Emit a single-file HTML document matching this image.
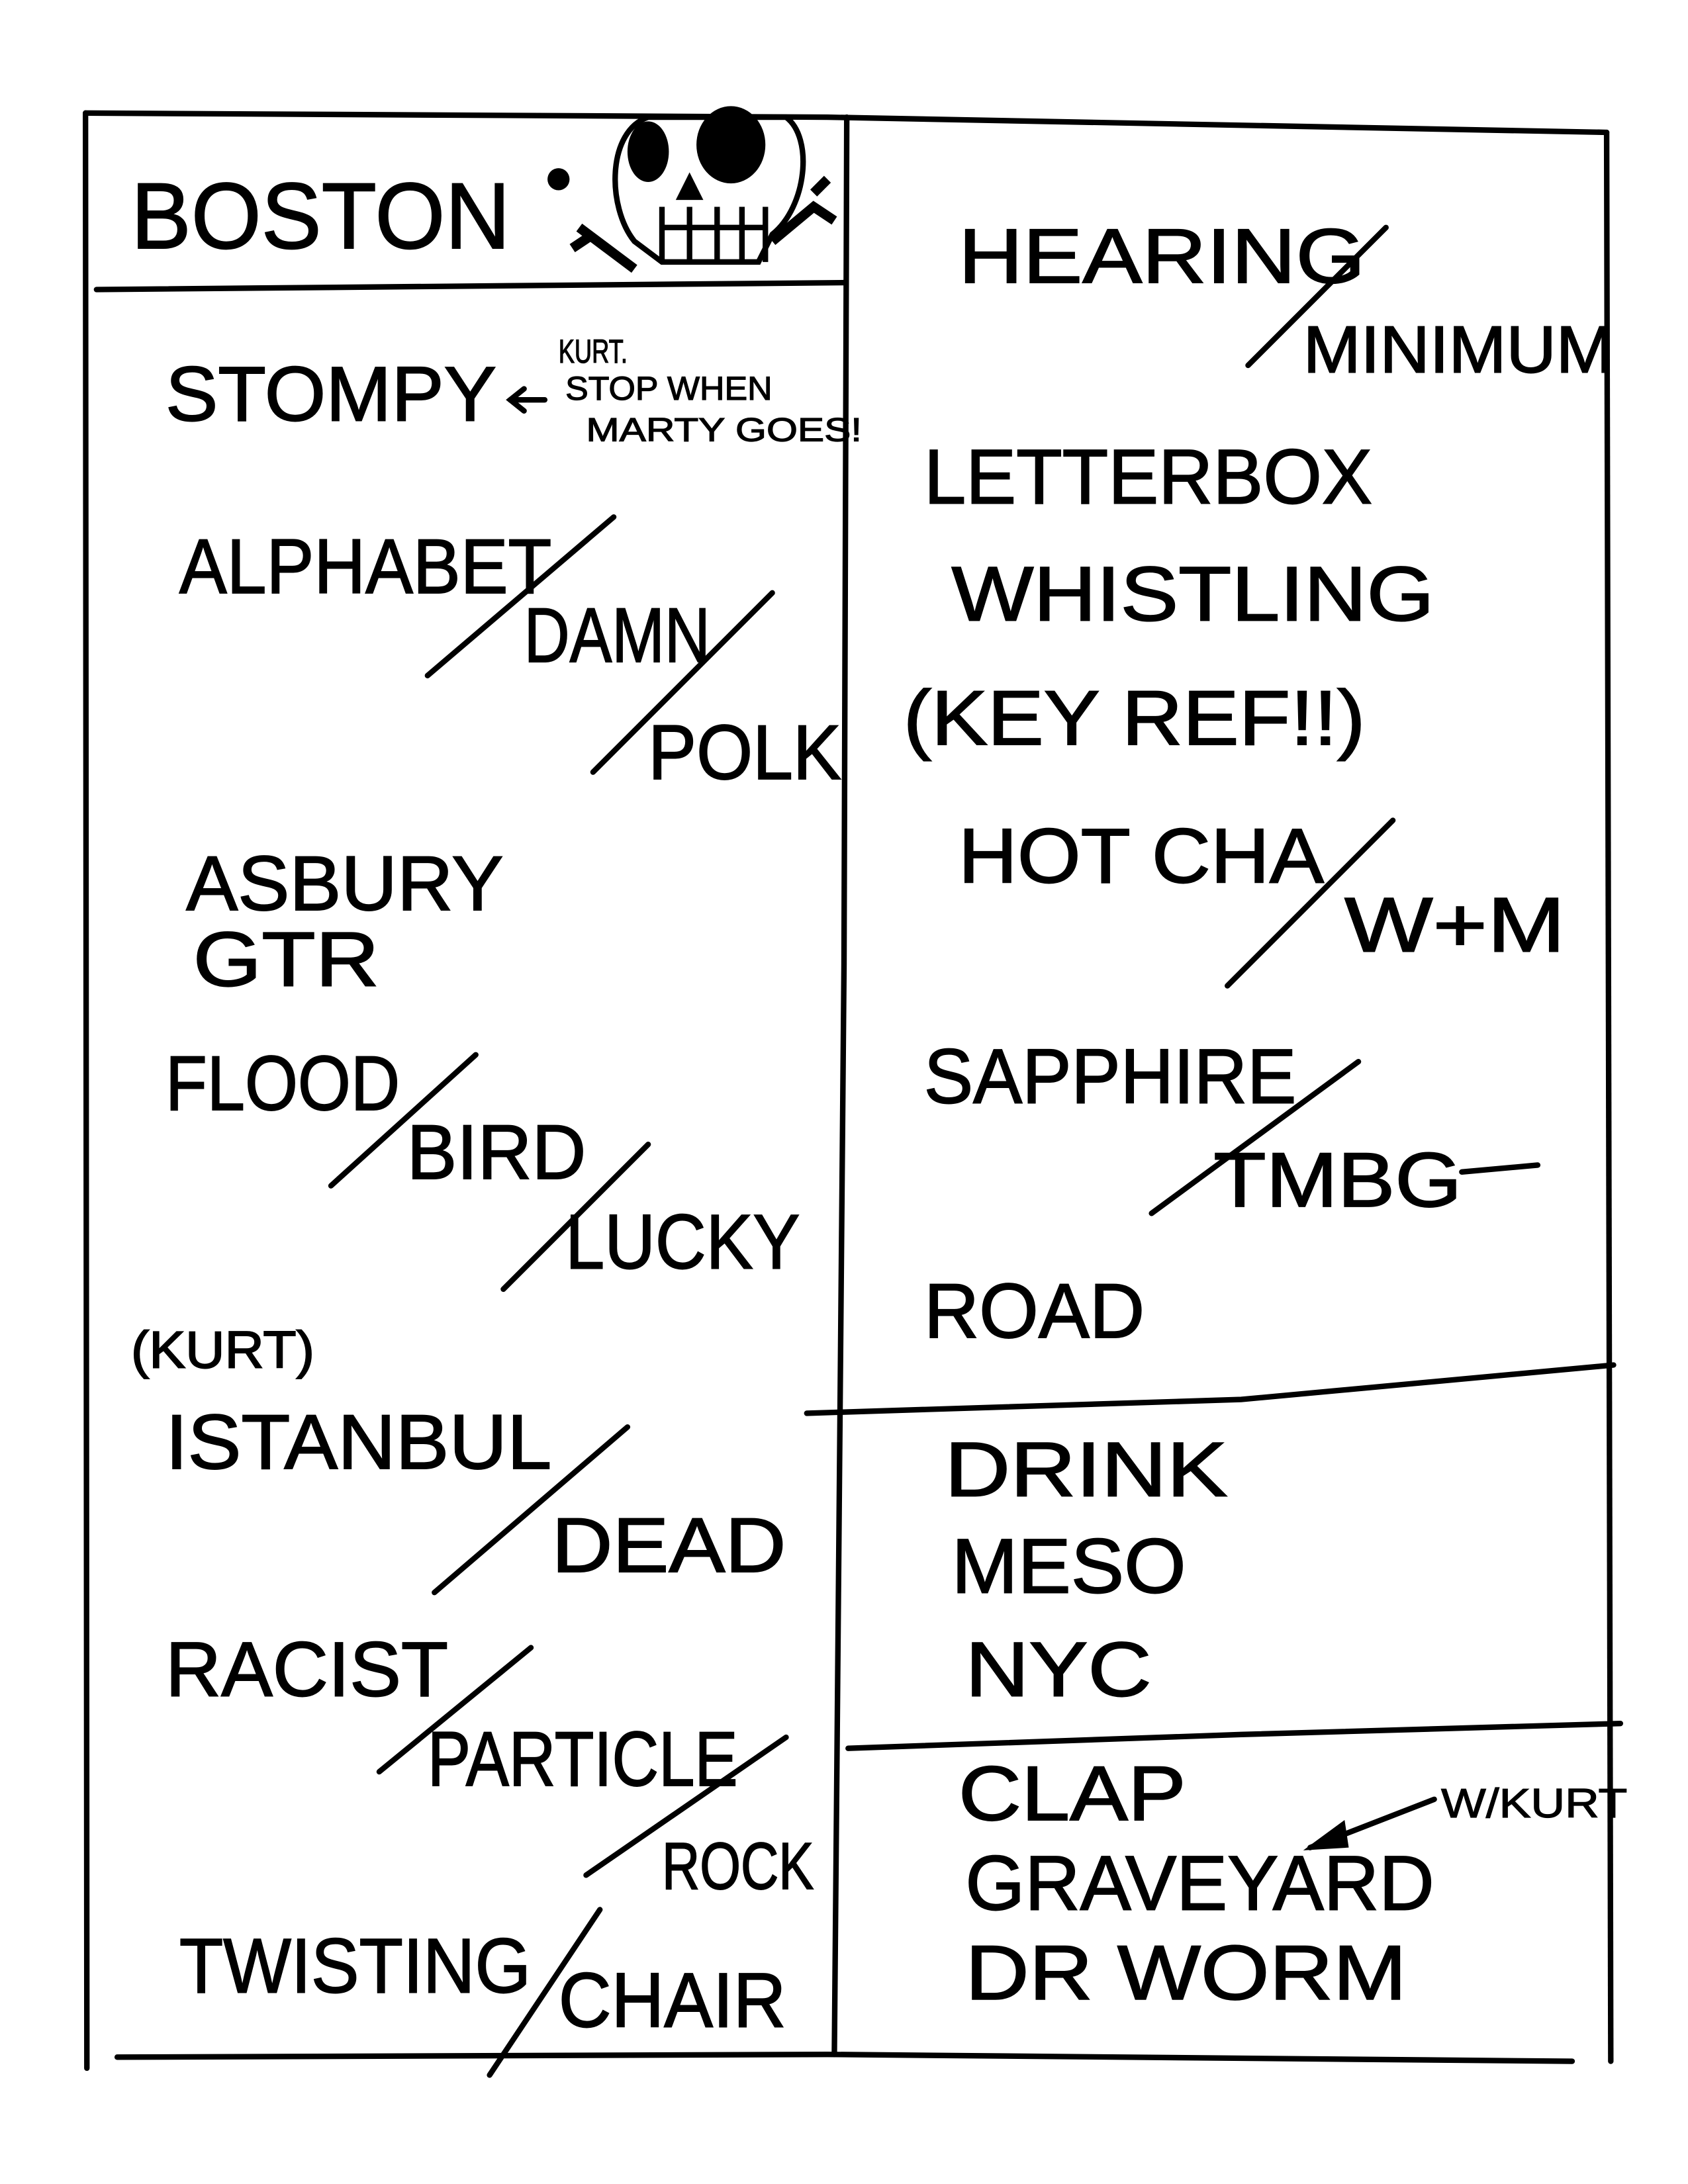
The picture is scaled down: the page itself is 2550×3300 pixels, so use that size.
<!DOCTYPE html>
<html><head><meta charset="utf-8"><style>
html,body{margin:0;padding:0;background:#fff;}
svg{display:block;}
text{font-family:"Liberation Sans",sans-serif;fill:#000;stroke:#000;stroke-width:0.9;}
</style></head><body>
<svg width="2550" height="3300" viewBox="0 0 1224 1584" xmlns="http://www.w3.org/2000/svg">
<g stroke="#000" stroke-width="4" fill="none" stroke-linecap="round">
<path d="M62 82 L63 1500"/>
<path d="M62 82 L600 85 L1165 96"/>
<path d="M1165 96 L1168 1495"/>
<path d="M85 1492 L600 1490 L1140 1495"/>
<path d="M614 85 L612 700 L605 1490"/>
<path d="M70 210 L612 205"/>
<path d="M585 1025 L900 1015 L1170 990"/>
<path d="M615 1268 L900 1258 L1175 1250"/>
<path d="M310 490 L445 375"/><path d="M430 560 L560 430"/>
<path d="M240 860 L345 765"/><path d="M365 935 L470 830"/>
<path d="M315 1155 L455 1035"/><path d="M275 1285 L385 1195"/>
<path d="M425 1360 L570 1260"/><path d="M355 1505 L435 1385"/>
<path d="M905 265 L1005 165"/><path d="M890 715 L1010 595"/>
<path d="M835 880 L985 770"/><path d="M1060 850 L1115 845"/>
<path d="M1040 1305 L950 1340"/><path d="M370 290 L395 290"/><path d="M380 282 L370 290 L380 298"/>
</g>
<polygon points="945,1342 975,1320 978,1340" fill="#000"/>
<circle cx="405" cy="130" r="8" fill="#000"/>
<g stroke="#000" stroke-width="4" fill="none">
<path d="M460 175 C440 150 440 95 470 85 L570 85 C590 100 585 150 560 170 L550 190 L480 190 Z"/>
<path d="M480 190 L480 150 M555 190 L555 150 M480 165 L555 165 M500 150 L500 190 M520 150 L520 190 M538 150 L538 190"/>
<path d="M420 165 L440 180 L460 195 M415 180 L430 170 M560 175 L590 150 L605 160 M590 140 L600 130" stroke-width="7"/>
</g>
<ellipse cx="470" cy="110" rx="15" ry="22" fill="#000"/>
<ellipse cx="530" cy="105" rx="25" ry="28" fill="#000"/>
<path d="M500 125 L510 145 L490 145 Z" fill="#000"/>
<g font-size="56">
<text x="95" y="180" textLength="275" lengthAdjust="spacingAndGlyphs" font-size="68">BOSTON</text>
<text x="120" y="305" textLength="240" lengthAdjust="spacingAndGlyphs">STOMPY</text>
<text x="130" y="430" textLength="270" lengthAdjust="spacingAndGlyphs">ALPHABET</text>
<text x="380" y="480" textLength="135" lengthAdjust="spacingAndGlyphs">DAMN</text>
<text x="470" y="565" textLength="140" lengthAdjust="spacingAndGlyphs">POLK</text>
<text x="135" y="660" textLength="230" lengthAdjust="spacingAndGlyphs">ASBURY</text>
<text x="140" y="715" textLength="135" lengthAdjust="spacingAndGlyphs">GTR</text>
<text x="120" y="805" textLength="170" lengthAdjust="spacingAndGlyphs">FLOOD</text>
<text x="295" y="855" textLength="130" lengthAdjust="spacingAndGlyphs">BIRD</text>
<text x="410" y="920" textLength="170" lengthAdjust="spacingAndGlyphs">LUCKY</text>
<text x="95" y="992" textLength="133" lengthAdjust="spacingAndGlyphs" font-size="38">(KURT)</text>
<text x="120" y="1065" textLength="280" lengthAdjust="spacingAndGlyphs">ISTANBUL</text>
<text x="400" y="1140" textLength="170" lengthAdjust="spacingAndGlyphs">DEAD</text>
<text x="120" y="1230" textLength="205" lengthAdjust="spacingAndGlyphs">RACIST</text>
<text x="310" y="1295" textLength="225" lengthAdjust="spacingAndGlyphs">PARTICLE</text>
<text x="480" y="1370" textLength="110" lengthAdjust="spacingAndGlyphs" font-size="48">ROCK</text>
<text x="130" y="1445" textLength="255" lengthAdjust="spacingAndGlyphs">TWISTING</text>
<text x="405" y="1470" textLength="165" lengthAdjust="spacingAndGlyphs">CHAIR</text>
<text x="695" y="205" textLength="295" lengthAdjust="spacingAndGlyphs">HEARING</text>
<text x="945" y="270" textLength="225" lengthAdjust="spacingAndGlyphs" font-size="48">MINIMUM</text>
<text x="670" y="365" textLength="325" lengthAdjust="spacingAndGlyphs">LETTERBOX</text>
<text x="690" y="450" textLength="350" lengthAdjust="spacingAndGlyphs">WHISTLING</text>
<text x="655" y="540" textLength="335" lengthAdjust="spacingAndGlyphs">(KEY REF!!)</text>
<text x="695" y="640" textLength="265" lengthAdjust="spacingAndGlyphs">HOT CHA</text>
<text x="975" y="690" textLength="160" lengthAdjust="spacingAndGlyphs">W+M</text>
<text x="670" y="800" textLength="270" lengthAdjust="spacingAndGlyphs">SAPPHIRE</text>
<text x="880" y="875" textLength="180" lengthAdjust="spacingAndGlyphs">TMBG</text>
<text x="670" y="970" textLength="160" lengthAdjust="spacingAndGlyphs">ROAD</text>
<text x="685" y="1085" textLength="205" lengthAdjust="spacingAndGlyphs">DRINK</text>
<text x="690" y="1155" textLength="170" lengthAdjust="spacingAndGlyphs">MESO</text>
<text x="700" y="1230" textLength="135" lengthAdjust="spacingAndGlyphs">NYC</text>
<text x="695" y="1320" textLength="165" lengthAdjust="spacingAndGlyphs">CLAP</text>
<text x="700" y="1385" textLength="340" lengthAdjust="spacingAndGlyphs">GRAVEYARD</text>
<text x="700" y="1450" textLength="320" lengthAdjust="spacingAndGlyphs">DR WORM</text>
</g>
<g font-size="24">
<text x="405" y="263" textLength="50" lengthAdjust="spacingAndGlyphs" style="stroke-width:0.6">KURT.</text>
<text x="410" y="290" textLength="150" lengthAdjust="spacingAndGlyphs" style="stroke-width:0.6">STOP WHEN</text>
<text x="425" y="320" textLength="200" lengthAdjust="spacingAndGlyphs" style="stroke-width:0.6">MARTY GOES!</text>
<text x="1045" y="1318" textLength="135" lengthAdjust="spacingAndGlyphs" style="stroke-width:0.6" font-size="30">W/KURT</text>
</g>
</svg>
</body></html>
